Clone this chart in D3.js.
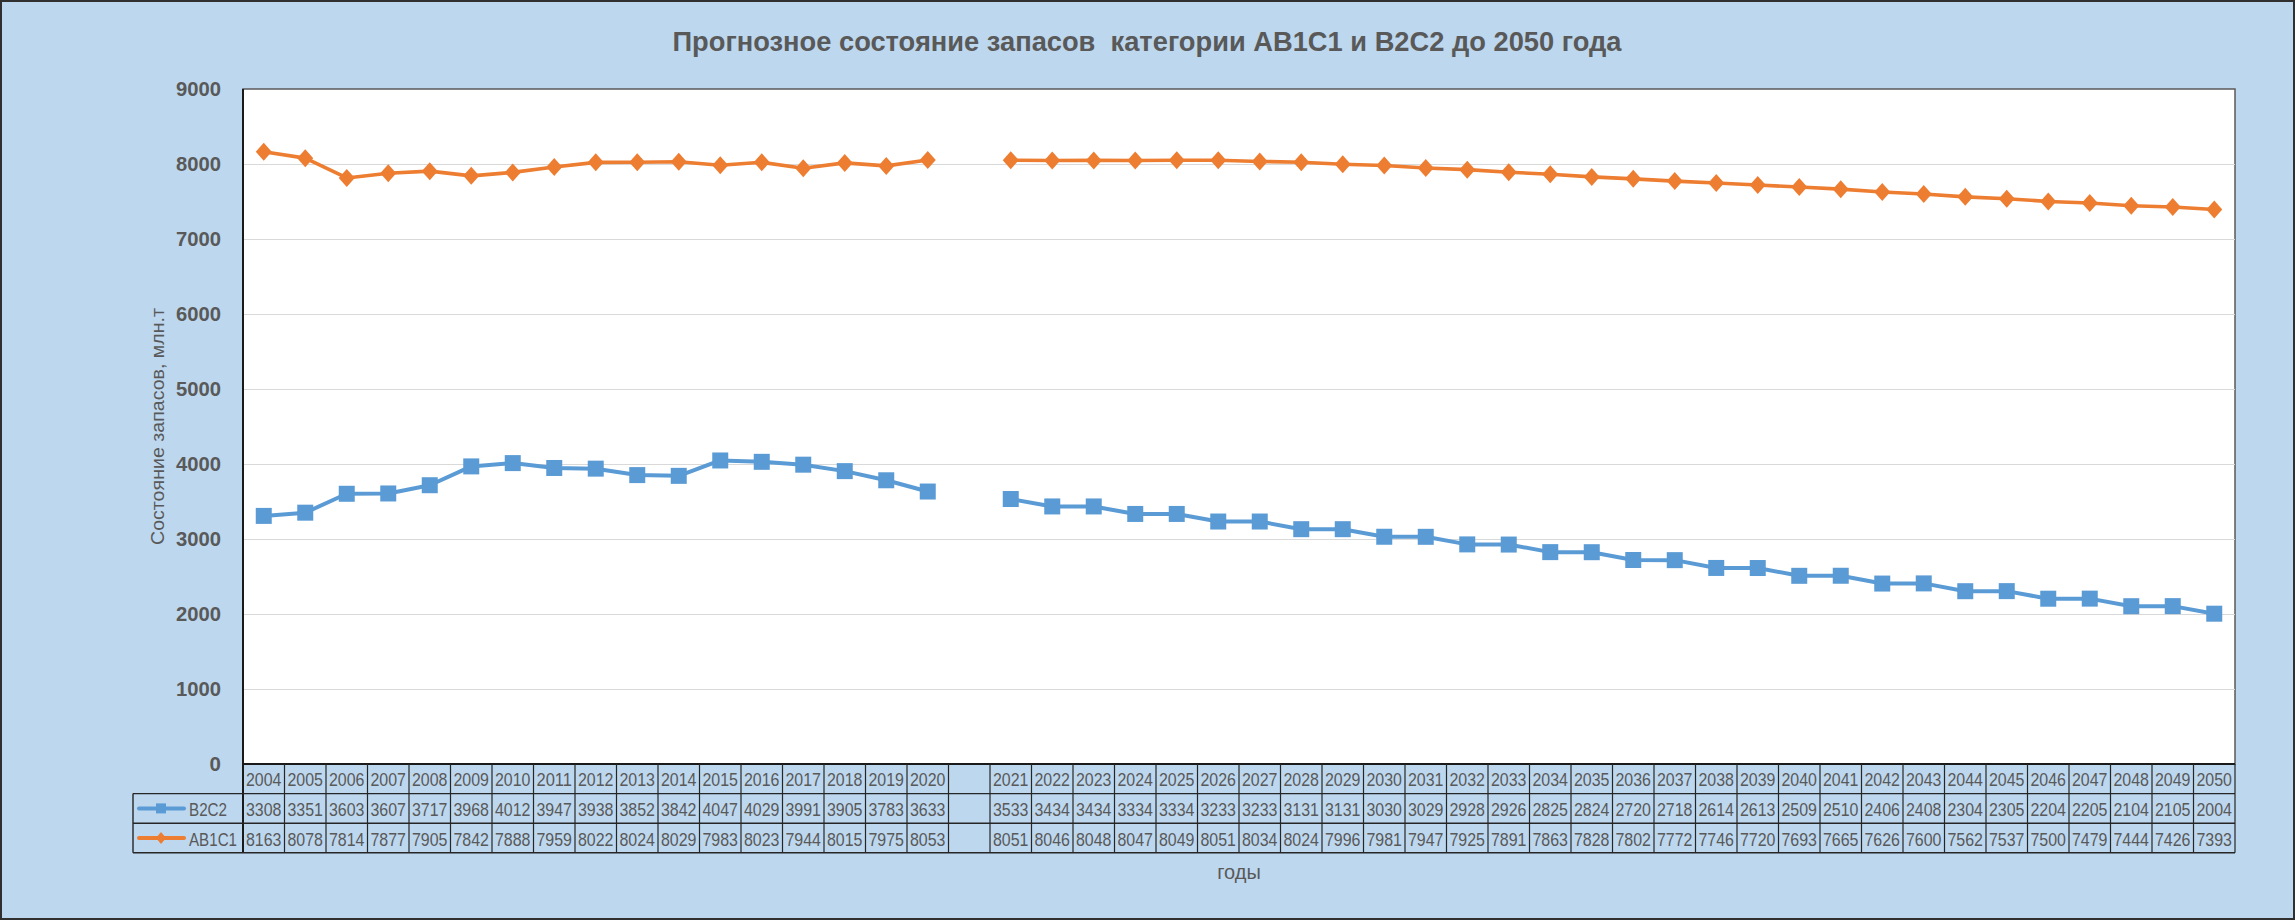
<!DOCTYPE html>
<html>
<head>
<meta charset="utf-8">
<script src="https://cdn.jsdelivr.net/npm/d3@7"></script>
<style>
  html, body { margin: 0; padding: 0; background: #BDD7EE; }
  svg { display: block; }
</style>
</head>
<body>
<svg id="chart" width="2295" height="920"></svg>
<script>
// ---------------- data ----------------
const categories = ["2004","2005","2006","2007","2008","2009","2010","2011","2012","2013","2014","2015","2016","2017","2018","2019","2020","",
  "2021","2022","2023","2024","2025","2026","2027","2028","2029","2030","2031","2032","2033","2034","2035","2036","2037","2038","2039","2040","2041","2042","2043","2044","2045","2046","2047","2048","2049","2050"];
const b2c2 = [3308,3351,3603,3607,3717,3968,4012,3947,3938,3852,3842,4047,4029,3991,3905,3783,3633,null,
  3533,3434,3434,3334,3334,3233,3233,3131,3131,3030,3029,2928,2926,2825,2824,2720,2718,2614,2613,2509,2510,2406,2408,2304,2305,2204,2205,2104,2105,2004];
const ab1c1 = [8163,8078,7814,7877,7905,7842,7888,7959,8022,8024,8029,7983,8023,7944,8015,7975,8053,null,
  8051,8046,8048,8047,8049,8051,8034,8024,7996,7981,7947,7925,7891,7863,7828,7802,7772,7746,7720,7693,7665,7626,7600,7562,7537,7500,7479,7444,7426,7393];
const seriesNames = ["B2C2", "AB1C1"];
const yTicks = [0,1000,2000,3000,4000,5000,6000,7000,8000,9000];
const titleText = "Прогнозное состояние запасов  категории AB1C1 и B2C2 до 2050 года";
const yTitle = "Состояние запасов, млн.т";
const xTitle = "годы";

// ---------------- layout ----------------
const W = 2295, H = 920;
const P = { left: 243, right: 2235, top: 89, bottom: 764 };
const rowH = 29.6;
const tableLeft = 133;
const gray = "#595959";
const blue = "#5B9BD5", orange = "#ED7D31";
const font = "'Liberation Sans', Arial, sans-serif";

const svg = d3.select("#chart");

svg.append("rect").attr("x", 1).attr("y", 1).attr("width", W - 2).attr("height", H - 2)
  .attr("fill", "#BDD7EE").attr("stroke", "#303030").attr("stroke-width", 2);

const x = d3.scaleBand().domain(d3.range(categories.length)).range([P.left, P.right]);
const y = d3.scaleLinear().domain([0, 9000]).range([P.bottom, P.top]);

// plot area
svg.append("rect").attr("x", P.left).attr("y", P.top)
  .attr("width", P.right - P.left).attr("height", P.bottom - P.top)
  .attr("fill", "#fff").attr("stroke", "#595959").attr("stroke-width", 1.5);

// gridlines
const grid = svg.append("g").attr("transform", `translate(${P.left},0)`)
  .call(d3.axisLeft(y).tickValues(yTicks.filter(v => v > 0 && v < 9000)).tickSize(-(P.right - P.left)).tickFormat(""));
grid.select(".domain").remove();
grid.selectAll("line").attr("stroke", "#D9D9D9").attr("stroke-width", 1.2);

// y axis labels
const yAxis = svg.append("g").attr("transform", `translate(${P.left},0)`)
  .call(d3.axisLeft(y).tickValues(yTicks).tickSize(0).tickPadding(22).tickFormat(d3.format("d")));
yAxis.select(".domain").remove();
yAxis.selectAll("text").attr("font-family", font)
  .attr("font-weight", "bold").attr("font-size", 20.5).attr("fill", gray)
  .attr("textLength", 45).attr("lengthAdjust", "spacingAndGlyphs");
yAxis.selectAll("text").filter(d => d === 0).attr("textLength", null);

// axis lines
svg.append("line").attr("x1", P.left).attr("x2", P.left).attr("y1", P.top).attr("y2", P.bottom + 3 * rowH)
  .attr("stroke", "#1a1a1a").attr("stroke-width", 2);
svg.append("line").attr("x1", P.left).attr("x2", P.right).attr("y1", P.bottom).attr("y2", P.bottom)
  .attr("stroke", "#1a1a1a").attr("stroke-width", 2);

// ---------------- data table ----------------
const tbl = svg.append("g");
const rowsTop = P.bottom + rowH;
[P.bottom + rowH, P.bottom + 2 * rowH, P.bottom + 3 * rowH].forEach(yy => {
  tbl.append("line").attr("x1", tableLeft).attr("x2", P.right).attr("y1", yy).attr("y2", yy)
    .attr("stroke", "#262626").attr("stroke-width", 1.4);
});
const bounds = categories.map((c, i) => x(i)).concat([P.right]);
bounds.forEach((bx, i) => {
  if (i === 0) return;
  tbl.append("line").attr("x1", bx).attr("x2", bx).attr("y1", P.bottom).attr("y2", P.bottom + 3 * rowH)
    .attr("stroke", "#262626").attr("stroke-width", 1.2);
});
tbl.append("line").attr("x1", tableLeft).attr("x2", tableLeft).attr("y1", rowsTop).attr("y2", P.bottom + 3 * rowH)
  .attr("stroke", "#262626").attr("stroke-width", 1.4);

function cellText(sel) {
  sel.attr("text-anchor", "middle").attr("dominant-baseline", "central")
    .attr("font-family", font).attr("font-size", 18.5).attr("fill", gray)
    .attr("textLength", d => (d == null || d === "") ? null : 35.5)
    .attr("lengthAdjust", "spacingAndGlyphs");
}

tbl.selectAll("text.cat").data(categories).join("text").attr("class", "cat")
  .attr("x", (d, i) => x(i) + x.bandwidth() / 2).attr("y", P.bottom + rowH / 2 + 1)
  .call(cellText).text(d => d);

const seriesData = [b2c2, ab1c1];
const seriesColors = [blue, orange];
seriesData.forEach((vals, r) => {
  const cy = rowsTop + r * rowH + rowH / 2;
  tbl.selectAll(`text.v${r}`).data(vals).join("text").attr("class", `v${r}`)
    .attr("x", (d, i) => x(i) + x.bandwidth() / 2).attr("y", cy + 1)
    .call(cellText).text(d => d == null ? "" : d);
  tbl.append("line").attr("x1", 139).attr("x2", 184).attr("y1", cy).attr("y2", cy)
    .attr("stroke", seriesColors[r]).attr("stroke-width", 4).attr("stroke-linecap", "round");
  if (r === 0) {
    tbl.append("rect").attr("x", 161 - 5).attr("y", cy - 5).attr("width", 10).attr("height", 10).attr("fill", blue);
  } else {
    tbl.append("path").attr("d", `M161,${cy - 6}L166,${cy}L161,${cy + 6}L156,${cy}Z`).attr("fill", orange);
  }
  tbl.append("text").attr("x", 189).attr("y", cy + 1).attr("dominant-baseline", "central")
    .attr("font-family", font).attr("font-size", 18.5).attr("fill", gray)
    .attr("textLength", r === 0 ? 38 : 48).attr("lengthAdjust", "spacingAndGlyphs").text(seriesNames[r]);
});

// ---------------- series ----------------
const cx = i => x(i) + x.bandwidth() / 2;
const line = d3.line().defined(d => d != null).x((d, i) => cx(i)).y(d => y(d));

svg.append("path").datum(b2c2).attr("d", line).attr("fill", "none")
  .attr("stroke", blue).attr("stroke-width", 4).attr("stroke-linejoin", "round");
svg.append("path").datum(ab1c1).attr("d", line).attr("fill", "none")
  .attr("stroke", orange).attr("stroke-width", 3.6).attr("stroke-linejoin", "round");

svg.append("g").selectAll("rect").data(b2c2.map((v, i) => ({ v, i })).filter(d => d.v != null)).join("rect")
  .attr("x", d => cx(d.i) - 8).attr("y", d => y(d.v) - 8).attr("width", 16).attr("height", 16).attr("fill", blue);
svg.append("g").selectAll("path").data(ab1c1.map((v, i) => ({ v, i })).filter(d => d.v != null)).join("path")
  .attr("d", d => { const px = cx(d.i), py = y(d.v); return `M${px},${py - 9}L${px + 8},${py}L${px},${py + 9}L${px - 8},${py}Z`; })
  .attr("fill", orange);

// ---------------- titles ----------------
svg.append("text").attr("x", 1147).attr("y", 41).attr("text-anchor", "middle")
  .attr("dominant-baseline", "central").attr("font-family", font)
  .attr("font-weight", "bold").attr("font-size", 28).attr("fill", gray).style("white-space", "pre")
  .attr("textLength", 949).attr("lengthAdjust", "spacingAndGlyphs").text(titleText);

svg.append("text").attr("transform", `translate(157,${(P.top + P.bottom) / 2}) rotate(-90)`)
  .attr("text-anchor", "middle").attr("dominant-baseline", "central")
  .attr("font-family", font).attr("font-size", 19).attr("fill", gray)
  .attr("textLength", 237).attr("lengthAdjust", "spacingAndGlyphs").text(yTitle);

svg.append("text").attr("x", 1239).attr("y", 872).attr("text-anchor", "middle").attr("dominant-baseline", "central")
  .attr("font-family", font).attr("font-size", 20).attr("fill", gray).text(xTitle);
</script>
</body>
</html>
